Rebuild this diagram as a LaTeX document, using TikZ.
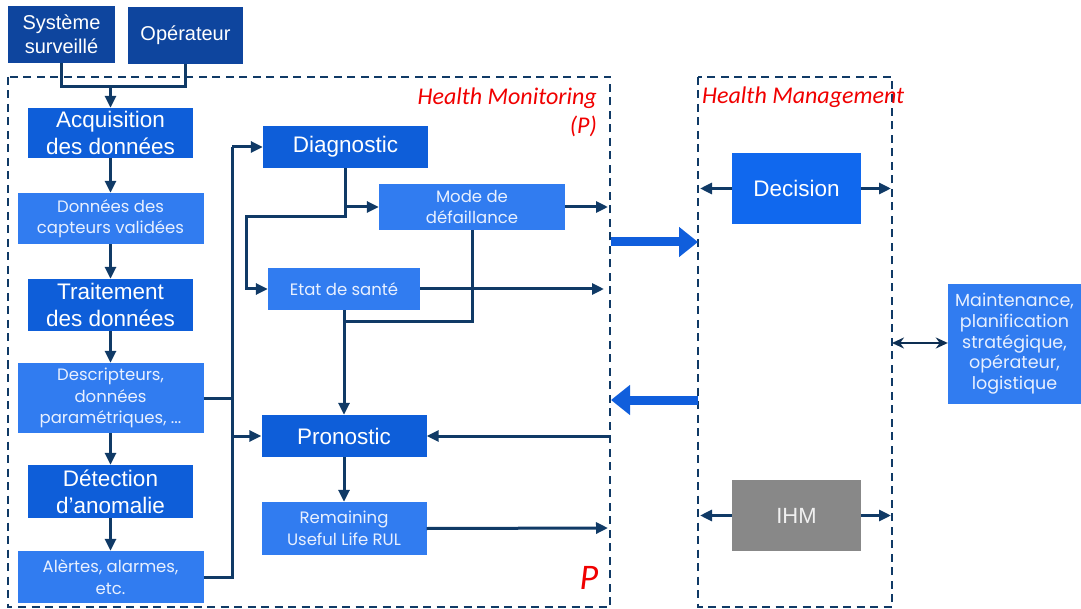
\documentclass[tikz,border=0pt]{standalone}
\usepackage{fontspec}
\setmainfont{Liberation Sans}
\newfontfamily\rndfont{Poppins}
\newfontfamily\redfont{Carlito}
\usetikzlibrary{arrows.meta}
\definecolor{navy}{RGB}{16,58,102}
\definecolor{bxdark}{RGB}{14,69,158}
\definecolor{bxmid}{RGB}{14,94,217}
\definecolor{bxlight}{RGB}{49,124,240}
\definecolor{bxdec}{RGB}{16,104,238}
\definecolor{bigarr}{RGB}{16,94,220}
\definecolor{ihmgray}{RGB}{136,136,136}
\definecolor{redtxt}{RGB}{240,0,0}
\tikzset{
  box/.style={rectangle, inner sep=0pt, align=center, text=white},
  darkbox/.style={box, fill=bxdark, font=\fontsize{20}{24}\selectfont},
  midbox/.style={box, fill=bxmid, font=\fontsize{22.5}{27}\selectfont},
  lightbox/.style={box, fill=bxlight, text={rgb,255:red,232;green,240;blue,255}, font=\rndfont\fontsize{16.5}{21.5}\selectfont},
  conn/.style={draw=navy, line width=3pt},
  arr/.style={conn, -{Triangle[length=12pt,width=11pt]}},
  darr/.style={draw=navy!80!black, line width=2.2pt, {Stealth[length=12pt,width=11pt]}-{Stealth[length=12pt,width=11pt]}},
  bigarrow/.style={draw=bigarr, line width=9pt, -{Triangle[length=19pt,width=29pt]}},
  frame/.style={draw=navy, line width=2.2pt, dash pattern=on 8pt off 5.5pt},
  redlabel/.style={text=redtxt, font=\redfont\itshape\fontsize{24}{28}\selectfont, inner sep=0pt}
}
\begin{document}
\begin{tikzpicture}[x=1pt,y=-1pt]
\useasboundingbox (0,0) rectangle (1081,609);
% frames
\draw[frame] (8,77) rectangle (610,607);
\draw[frame] (698,77) rectangle (892,607);
% top boxes
\node[darkbox, minimum width=107pt, minimum height=57pt] (sys) at (61.5,34.5) {Système\\surveillé};
\node[darkbox, minimum width=115pt, minimum height=57pt] (op) at (185.5,35.5) {Opérateur};
% left column
\node[midbox, minimum width=165pt, minimum height=50pt] (acq) at (110.5,133) {Acquisition\\des données};
\node[lightbox, minimum width=186pt, minimum height=51pt] (cap) at (110.5,218.5) {Données des\\capteurs validées};
\node[midbox, minimum width=165pt, minimum height=52pt] (trt) at (110.5,305) {Traitement\\des données};
\node[lightbox, minimum width=186pt, minimum height=70pt] (desc) at (110.5,398) {Descripteurs,\\données\\paramétriques, ...};
\node[midbox, minimum width=165pt, minimum height=53pt] (det) at (110.5,491.5) {Détection\\d’anomalie};
\node[lightbox, minimum width=186pt, minimum height=52pt] (alt) at (110.5,577) {Alèrtes, alarmes,\\etc.};
% middle column
\node[midbox, minimum width=165pt, minimum height=42pt] (diag) at (345.5,147) {Diagnostic};
\node[lightbox, minimum width=186pt, minimum height=46pt] (mode) at (472,207) {Mode de\\défaillance};
\node[lightbox, minimum width=152pt, minimum height=42pt] (etat) at (344,289) {Etat de santé};
\node[midbox, minimum width=165pt, minimum height=42pt] (pron) at (344,436) {Pronostic};
\node[lightbox, minimum width=165pt, minimum height=53pt] (rul) at (344,528.5) {Remaining\\Useful Life RUL};
% right
\node[box, fill=bxdec, font=\fontsize{22.5}{26}\selectfont, minimum width=129pt, minimum height=71pt] (dec) at (796.5,188.5) {Decision};
\node[box, fill=ihmgray, text={rgb,255:red,240;green,240;blue,240}, font=\fontsize{22}{26}\selectfont, minimum width=129pt, minimum height=71pt] (ihm) at (796.5,515.5) {IHM};
\node[lightbox, font=\rndfont\fontsize{17.5}{20.7}\selectfont, minimum width=133pt, minimum height=120pt] (maint) at (1014.5,344) {Maintenance,\\planification\\stratégique,\\opérateur,\\logistique};
% labels
\node[redlabel, anchor=east] (hm) at (597,98) {Health Monitoring};
\node[redlabel, anchor=east] (hmp) at (597,126) {(P)};
\node[redlabel, anchor=west] (hmg) at (702,97) {Health Management};
\node[redlabel, font=\redfont\itshape\fontsize{36}{40}\selectfont] (bigp) at (589,578) {P};
% coordinates
\coordinate (j1) at (110.5,87);
\coordinate (bt) at (232,147);
\coordinate (bb) at (232,577);
\coordinate (d1) at (345.5,207);
\coordinate (d2) at (345.5,217);
\coordinate (d3) at (246,217);
\coordinate (e1) at (344,322);
\coordinate (m1) at (608,207);
\coordinate (s1) at (604,289);
\coordinate (p1) at (609,436);
\coordinate (r1) at (608,528);
\coordinate (dl) at (700,188.5);
\coordinate (dr) at (891,188.5);
\coordinate (il) at (700,515.5);
\coordinate (ir) at (891,515.5);
\coordinate (mx) at (892,343);
\coordinate (ba1) at (611,242);
\coordinate (ba2) at (698,242);
\coordinate (bb1) at (698,400);
\coordinate (bb2) at (611,400);
% connectors
\draw[conn] (sys.south) |- (j1) -| (op.south);
\draw[arr] (j1) -- (acq.north);
\draw[arr] (acq.south) -- (cap.north);
\draw[arr] (cap.south) -- (trt.north);
\draw[arr] (trt.south) -- (desc.north);
\draw[arr] (desc.south) -- (det.north);
\draw[arr] (det.south) -- (alt.north);
\draw[conn] (alt.east) -- (bb) -- (bt);
\draw[arr] (bt) -- (diag.west);
\draw[conn] (desc.east) -- (desc.east -| bb);
\draw[arr] (pron.west -| bb) -- (pron.west);
\draw[arr] (diag.south) -- (d1) -- (mode.west);
\draw[arr] (d1) -- (d2) -- (d3) |- (etat.west);
\draw[arr] (mode.east) -- (m1);
\draw[arr] (etat.east) -- (s1);
\draw[conn] (mode.south) |- (e1);
\draw[arr] (etat.south) -- (pron.north);
\draw[arr] (p1) -- (pron.east);
\draw[arr] (pron.south) -- (rul.north);
\draw[arr] (rul.east) -- (r1);
\draw[arr] (dec.west) -- (dl);
\draw[arr] (dec.east) -- (dr);
\draw[arr] (ihm.west) -- (il);
\draw[arr] (ihm.east) -- (ir);
\draw[darr] (mx) -- (maint.west |- mx);
\draw[bigarrow] (ba1) -- (ba2);
\draw[bigarrow] (bb1) -- (bb2);
\end{tikzpicture}
\end{document}
